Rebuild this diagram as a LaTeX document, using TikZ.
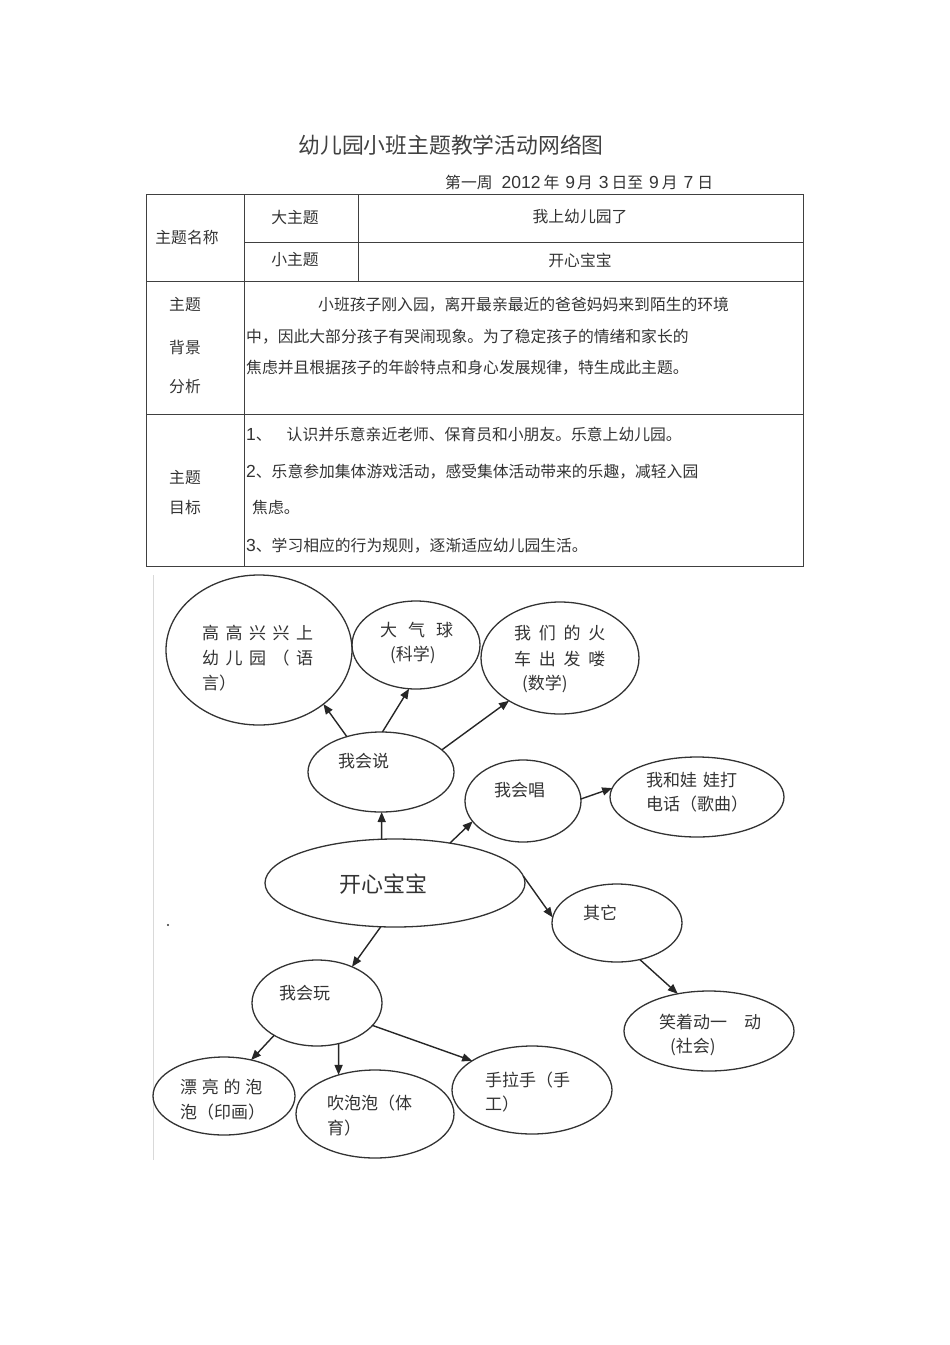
\documentclass[tikz,border=0pt]{standalone}
\usepackage{fontspec}
\setmainfont{Noto Sans CJK SC}
\newfontfamily\arial{Liberation Sans}
\usetikzlibrary{shapes.geometric,arrows.meta}
\newcommand\kgap[1]{\hspace{#1pt}}
\newcommand\dg[1]{{\arial\fontsize{17.5}{18}\selectfont #1}}
\begin{document}
\begin{tikzpicture}[x=1pt,y=-1pt,
  tline/.style={draw=black!75, line width=0.9pt},
  bub/.style={ellipse, draw=black!80, line width=1.3pt, inner sep=0pt, outer sep=0pt},
  arr/.style={draw=black!85, line width=1.4pt, -{Triangle[length=10pt,width=8pt]}},
  tt/.style={font=\fontsize{15.8}{18}\selectfont, text=black!80, inner sep=0pt},
  tw/.style={tt, anchor=west},
  dt/.style={font=\fontsize{17}{20}\selectfont, text=black!80, inner sep=0pt, anchor=west},
]
\useasboundingbox (0,0) rectangle (950,1345);

% title
\node[font=\fontsize{21.8}{24}\selectfont, text=black!75, inner sep=0pt] (title) at (451,145) {幼儿园小班主题教学活动网络图};
\node[tw] (week) at (445,182) {第一周\kgap{9}\dg{2012}\kgap{3}年\kgap{6}\dg{9}\kgap{2}月\kgap{6}\dg{3}\kgap{3}日至\kgap{6}\dg{9}\kgap{3}月\kgap{6}\dg{7}\kgap{4}日};

% table
\draw[tline] (146,194) rectangle (803,566);
\draw[tline] (244,194) -- (244,566);
\draw[tline] (358,194) -- (358,281);
\draw[tline] (244,242) -- (803,242);
\draw[tline] (146,281) -- (803,281);
\draw[tline] (146,414) -- (803,414);

\node[tt] (c11) at (187,237) {主题名称};
\node[tt] (c12) at (295,217) {大主题};
\node[tt] (c13) at (580,217) {我上幼儿园了};
\node[tt] (c22) at (295,260) {小主题};
\node[tt] (c23) at (580,260) {开心宝宝};

\node[tt] (b1) at (185,305) {主题};
\node[tt] (b2) at (185,347) {背景};
\node[tt] (b3) at (185,387) {分析};
\node[tw] (p1) at (318,305) {小班孩子刚入园，离开最亲最近的爸爸妈妈来到陌生的环境};
\node[tw] (p2) at (246,337) {中，因此大部分孩子有哭闹现象。为了稳定孩子的情绪和家长的};
\node[tw] (p3) at (246,368) {焦虑并且根据孩子的年龄特点和身心发展规律，特生成此主题。};

\node[tt] (m1) at (185,478) {主题};
\node[tt] (m2) at (185,507) {目标};
\node[tw] (g1t) at (246,434) {\dg{1}、\hspace{15pt}认识并乐意亲近老师、保育员和小朋友。乐意上幼儿园。};
\node[tw] (g2t) at (246,472) {\dg{2}、乐意参加集体游戏活动，感受集体活动带来的乐趣，减轻入园};
\node[tw] (g2u) at (252,507) {焦虑。};
\node[tw] (g3t) at (246,546) {\dg{3}、学习相应的行为规则，逐渐适应幼儿园生活。};

% diagram frame line and dot
\draw[black!15, line width=1pt] (153,575) -- (153,1160);
\fill[black!80] (168,925) circle (1.2);

% ellipses
\node[bub, minimum width=186pt, minimum height=150pt] (g1) at (259,650) {};
\node[bub, minimum width=128pt, minimum height=88pt] (g2) at (416,645) {};
\node[bub, minimum width=158pt, minimum height=112pt] (g3) at (560,658) {};
\node[bub, minimum width=146pt, minimum height=80pt] (ws) at (381,772) {};
\node[bub, minimum width=116pt, minimum height=82pt] (wc) at (523,801) {};
\node[bub, minimum width=174pt, minimum height=80pt] (wwdh) at (697,797) {};
\node[bub, minimum width=260pt, minimum height=88pt] (kx) at (395,883) {};
\node[bub, minimum width=130pt, minimum height=78pt] (qt) at (617,923) {};
\node[bub, minimum width=170pt, minimum height=80pt] (xz) at (709,1031) {};
\node[bub, minimum width=130pt, minimum height=86pt] (wp) at (317,1003) {};
\node[bub, minimum width=142pt, minimum height=78pt] (pl) at (224,1096) {};
\node[bub, minimum width=158pt, minimum height=88pt] (cpp) at (375,1114) {};
\node[bub, minimum width=160pt, minimum height=88pt] (slh) at (532,1090) {};

% ellipse texts
\node[dt] (t1a) at (202,633) {高\kgap{6.5}高\kgap{6.5}兴\kgap{6.5}兴\kgap{6.5}上};
\node[dt] (t1b) at (202,658) {幼\kgap{6.5}儿\kgap{6.5}园\kgap{6.5}（\kgap{6.5}语};
\node[dt] (t1c) at (202,683) {言）};
\node[dt] (t2a) at (380,630) {大\kgap{11}气\kgap{11}球};
\node[dt] (t2b) at (390,655) {(科学)};
\node[dt] (t3a) at (514,633) {我\kgap{7.7}们\kgap{7.7}的\kgap{7.7}火};
\node[dt] (t3b) at (514,659) {车\kgap{7.7}出\kgap{7.7}发\kgap{7.7}喽};
\node[dt] (t3c) at (522,684) {(数学)};
\node[dt] (t4) at (338,761) {我会说};
\node[dt] (t5) at (494,790) {我会唱};
\node[dt] (t6a) at (646,780) {我和娃\kgap{6}娃打};
\node[dt] (t6b) at (646,804) {电话（歌曲）};
\node[font=\fontsize{22}{24}\selectfont, text=black!80, inner sep=0pt] (t7) at (383,884) {开心宝宝};
\node[dt] (t8) at (583,913) {其它};
\node[dt] (t9a) at (659,1022) {笑着动一\kgap{17}动};
\node[dt] (t9b) at (670,1047) {(社会)};
\node[dt] (t10) at (279,993) {我会玩};
\node[dt] (t11a) at (180,1087) {漂\kgap{4.7}亮\kgap{4.7}的\kgap{4.7}泡};
\node[dt] (t11b) at (180,1112) {泡（印画）};
\node[dt] (t12a) at (327,1103) {吹泡泡（体};
\node[dt] (t12b) at (327,1128) {育）};
\node[dt] (t13a) at (485,1080) {手拉手（手};
\node[dt] (t13b) at (485,1104) {工）};

% arrows
\draw[arr] (ws.134) -- (g1.-40);
\draw[arr] (ws.88) -- (g2.261);
\draw[arr] (ws.20) -- (g3.220);
\draw[arr] (kx.107) -- (ws.271);
\draw[arr] (kx.36) -- (wc.202);
\draw[arr] (wc.2) -- (wwdh.174);
\draw[arr] (kx.3) -- (qt.175);
\draw[arr] (qt.-58) -- (xz.130);
\draw[arr] (kx.-108) -- (wp.46);
\draw[arr] (wp.217) -- (pl.53);
\draw[arr] (wp.-62) -- (cpp.133);
\draw[arr] (wp.-22) -- (slh.154);
\end{tikzpicture}
\end{document}
